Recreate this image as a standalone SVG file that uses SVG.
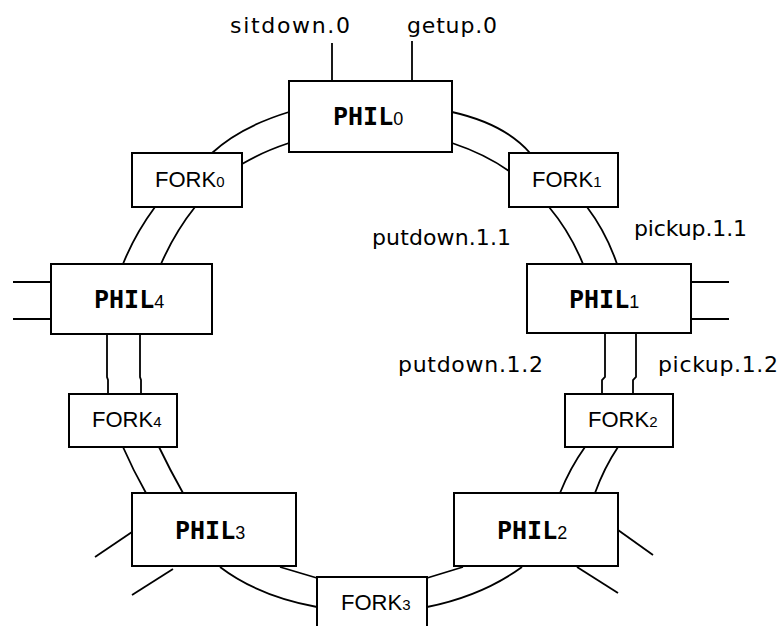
<svg xmlns="http://www.w3.org/2000/svg" width="782" height="626" viewBox="0 0 782 626">
  <style>
    .box { fill: #fff; stroke: #000; stroke-width: 2; }
    .wire { fill: none; stroke: #000; stroke-width: 1.8; }
    .phil { font-family: "DejaVu Sans Mono", "Liberation Mono", monospace; font-weight: bold; font-size: 25px; fill: #000; }
    .psub { font-family: "Liberation Sans", Arial, sans-serif; font-weight: normal; font-size: 18px; }
    .fork { font-family: "Liberation Sans", Arial, sans-serif; font-size: 22px; fill: #000; }
    .fsub { font-size: 15px; }
    .lbl { font-family: "DejaVu Sans", "Liberation Sans", sans-serif; font-size: 22px; fill: #000; }
  </style>
  <rect width="782" height="626" fill="#fff"/>

  <!-- channels between philosophers and forks -->
  <g id="connectors">
    <!-- external event lines of PHIL0 -->
    <path class="wire" d="M332,43 V81"/>
    <path class="wire" d="M412,41 V81"/>
    <!-- PHIL0 - FORK0 -->
    <path class="wire" d="M289,112 Q240,127 212,153"/>
    <path class="wire" d="M289,143 Q262,152 242,164"/>
    <!-- FORK0 - PHIL4 -->
    <path class="wire" d="M155,207 Q135,234 123,264"/>
    <path class="wire" d="M195,207 Q175,232 161,264"/>
    <!-- PHIL0 - FORK1 -->
    <path class="wire" d="M452,112 Q505,124 530,153"/>
    <path class="wire" d="M452,143 Q485,154 509,171"/>
    <!-- FORK1 - PHIL1 -->
    <path class="wire" d="M549,207 Q570,232 583,264"/>
    <path class="wire" d="M587,207 Q606,232 617,264"/>
    <!-- PHIL1 side lines -->
    <path class="wire" d="M691,282 H729"/>
    <path class="wire" d="M691,319 H729"/>
    <!-- PHIL1 - FORK2 -->
    <path class="wire" d="M605,333 V377 L602,380 V394"/>
    <path class="wire" d="M636,333 V377 L633,380 V394"/>
    <!-- FORK2 - PHIL2 -->
    <path class="wire" d="M585,447 Q570,468 560,493"/>
    <path class="wire" d="M618,447 Q604,468 595,493"/>
    <!-- PHIL2 side lines -->
    <path class="wire" d="M618,530 L653,555"/>
    <path class="wire" d="M577,567 L618,593"/>
    <!-- PHIL2 - FORK3 -->
    <path class="wire" d="M463,567 L427,578"/>
    <path class="wire" d="M522,567 Q482,596 427,607"/>
    <!-- PHIL3 - FORK3 -->
    <path class="wire" d="M280,567 L317,578"/>
    <path class="wire" d="M220,567 Q258,596 317,607"/>
    <!-- PHIL3 side lines -->
    <path class="wire" d="M132,532 L95,557"/>
    <path class="wire" d="M173,569 L132,595"/>
    <!-- FORK4 - PHIL3 -->
    <path class="wire" d="M123,447 Q133,470 146,493"/>
    <path class="wire" d="M159,447 Q170,470 183,493"/>
    <!-- PHIL4 - FORK4 -->
    <path class="wire" d="M107,334 V377 L108,380 V394"/>
    <path class="wire" d="M140,334 V377 L141,380 V394"/>
    <!-- PHIL4 side lines -->
    <path class="wire" d="M13,282 H51"/>
    <path class="wire" d="M13,319 H51"/>
  </g>

  <g id="phil0">
    <rect class="box" x="289" y="81" width="163" height="71"/>
    <text class="phil" x="333" y="125">PHIL<tspan class="psub" dx="0">0</tspan></text>
  </g>
  <g id="phil1">
    <rect class="box" x="527" y="264" width="164" height="69"/>
    <text class="phil" x="569" y="308">PHIL<tspan class="psub" dx="0">1</tspan></text>
  </g>
  <g id="phil2">
    <rect class="box" x="454" y="493" width="164" height="73"/>
    <text class="phil" x="497" y="539">PHIL<tspan class="psub" dx="0">2</tspan></text>
  </g>
  <g id="phil3">
    <rect class="box" x="132" y="493" width="164" height="73"/>
    <text class="phil" x="175" y="539">PHIL<tspan class="psub" dx="0">3</tspan></text>
  </g>
  <g id="phil4">
    <rect class="box" x="51" y="264" width="161" height="70"/>
    <text class="phil" x="94" y="308">PHIL<tspan class="psub" dx="0">4</tspan></text>
  </g>

  <g id="fork0">
    <rect class="box" x="132" y="153" width="110" height="54"/>
    <text class="fork" x="155" y="187">FORK<tspan class="fsub" dx="0">0</tspan></text>
  </g>
  <g id="fork1">
    <rect class="box" x="509" y="153" width="109" height="54"/>
    <text class="fork" x="532" y="187">FORK<tspan class="fsub" dx="0">1</tspan></text>
  </g>
  <g id="fork2">
    <rect class="box" x="565" y="394" width="108" height="53"/>
    <text class="fork" x="588" y="427">FORK<tspan class="fsub" dx="0">2</tspan></text>
  </g>
  <g id="fork3">
    <rect class="box" x="317" y="577" width="110" height="70"/>
    <text class="fork" x="341" y="610">FORK<tspan class="fsub" dx="0">3</tspan></text>
  </g>
  <g id="fork4">
    <rect class="box" x="69" y="394" width="108" height="53"/>
    <text class="fork" x="92" y="427">FORK<tspan class="fsub" dx="0">4</tspan></text>
  </g>

  <g id="labels">
    <text class="lbl" x="230" y="33" textLength="120" lengthAdjust="spacing">sitdown.0</text>
    <text class="lbl" x="407" y="33" textLength="90" lengthAdjust="spacing">getup.0</text>
    <text class="lbl" x="372" y="245" textLength="139" lengthAdjust="spacing">putdown.1.1</text>
    <text class="lbl" x="634" y="236" textLength="113" lengthAdjust="spacing">pickup.1.1</text>
    <text class="lbl" x="398" y="372" textLength="145" lengthAdjust="spacing">putdown.1.2</text>
    <text class="lbl" x="658" y="372" textLength="120" lengthAdjust="spacing">pickup.1.2</text>
  </g>
</svg>
